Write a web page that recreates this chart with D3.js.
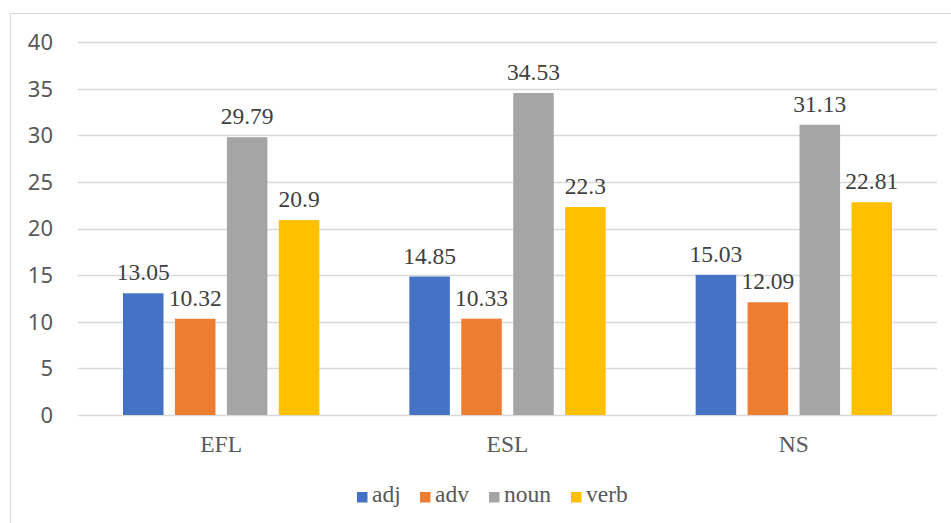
<!DOCTYPE html>
<html><head><meta charset="utf-8">
<script src="https://cdn.jsdelivr.net/npm/d3@7"></script>
<style>body{margin:0;background:#fff}svg{display:block}
.serif{font-family:"Liberation Serif","Times New Roman",Times,serif}
.sans{font-family:"Noto Sans","Open Sans",sans-serif}</style>
</head><body>
<script>
const categories = ["EFL", "ESL", "NS"];
const seriesNames = ["adj", "adv", "noun", "verb"];
const adj = [13.05, 14.85, 15.03];
const adv = [10.32, 10.33, 12.09];
const noun = [29.79, 34.53, 31.13];
const verb = [20.9, 22.3, 22.81];
const yTicks = [0, 5, 10, 15, 20, 25, 30, 35, 40];
const colors = ["#4472C4", "#ED7D31", "#A5A5A5", "#FFC000"];
const seriesValues = [adj, adv, noun, verb];

const W = 951, H = 523;
const svg = d3.select("body").append("svg").attr("width", W).attr("height", H);
svg.append("rect").attr("x", 10.5).attr("y", 13.5).attr("width", 960).attr("height", 540)
  .attr("fill", "#fff").attr("stroke", "#d9d9d9");

const plotL = 78, plotR = 937;
const y = d3.scaleLinear().domain([0, 40]).range([415, 42]);
const x0 = d3.scaleBand().domain(categories).range([plotL, plotR]).padding(0);
const x1 = d3.scaleBand().domain(seriesNames).range([45, x0.bandwidth() - 45]).paddingInner(0.22).paddingOuter(0);

svg.append("g").selectAll("line").data(yTicks).join("line")
  .attr("x1", plotL).attr("x2", plotR)
  .attr("y1", d => Math.round(y(d)) + 0.5).attr("y2", d => Math.round(y(d)) + 0.5)
  .attr("stroke", "#d9d9d9").attr("stroke-width", 1.3);

svg.append("g").selectAll("text").data(yTicks).join("text")
  .attr("class", "sans")
  .attr("x", 53).attr("y", d => y(d)).attr("dy", "0.36em")
  .attr("text-anchor", "end")
  .attr("font-size", 22).attr("fill", "#595959").text(d => d);

const groups = svg.append("g").selectAll("g").data(categories).join("g")
  .attr("transform", c => `translate(${x0(c)},0)`);
groups.each(function(c, ci) {
  const g = d3.select(this);
  seriesNames.forEach((s, si) => {
    const v = seriesValues[si][ci];
    g.append("rect").attr("x", x1(s)).attr("width", x1.bandwidth())
      .attr("y", y(v)).attr("height", y(0) - y(v)).attr("fill", colors[si]);
    g.append("text").attr("class", "serif")
      .attr("x", x1(s) + x1.bandwidth() / 2).attr("y", y(v) - 13)
      .attr("text-anchor", "middle")
      .attr("font-size", 23.5).attr("fill", "#404040").text(v);
  });
});

svg.append("g").selectAll("text").data(categories).join("text")
  .attr("class", "serif")
  .attr("x", c => x0(c) + x0.bandwidth() / 2).attr("y", 452)
  .attr("text-anchor", "middle")
  .attr("font-size", 23.5).attr("fill", "#595959").text(c => c);

const legX = [357, 420, 489, 571];
const leg = svg.append("g").selectAll("g").data(seriesNames).join("g")
  .attr("transform", (s, i) => `translate(${legX[i]},502)`);
leg.append("rect").attr("x", 0).attr("y", -10).attr("width", 10.5).attr("height", 10.5)
  .attr("fill", (s, i) => colors[i]);
leg.append("text").attr("class", "serif").attr("x", 15).attr("y", 0)
  .attr("font-size", 23.5).attr("fill", "#595959").text(s => s);
</script>
</body></html>
